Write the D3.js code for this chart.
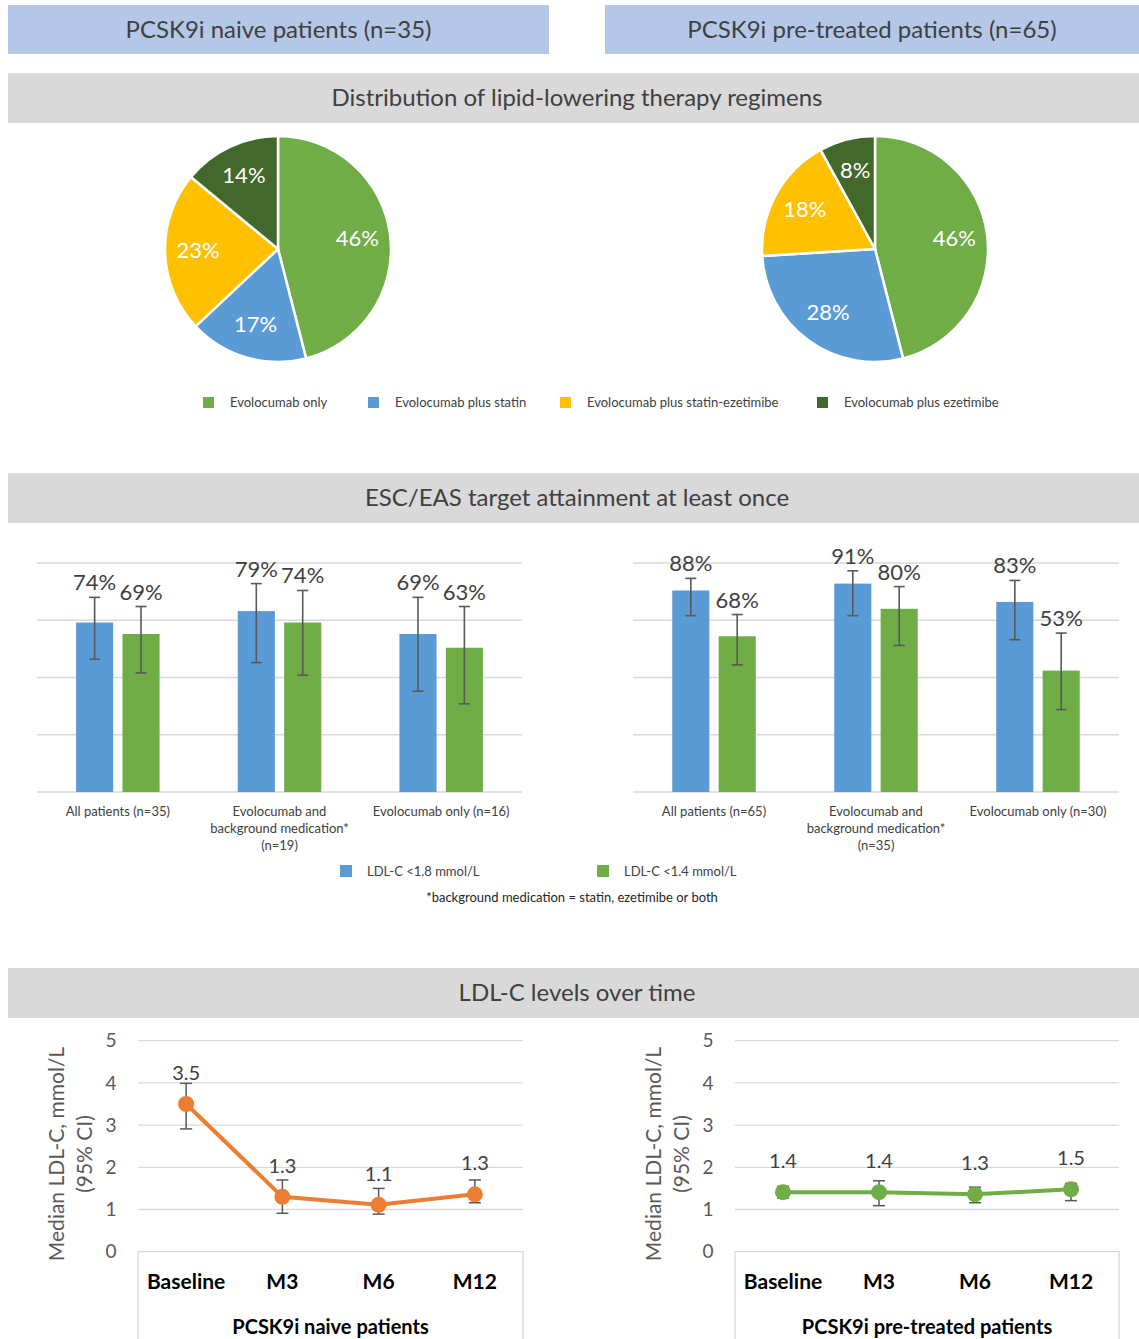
<!DOCTYPE html>
<html><head><meta charset="utf-8">
<script src="https://cdn.jsdelivr.net/npm/d3@7"></script>
<style>body{margin:0;background:#fff;} svg text{font-family:Lato,"Open Sans",sans-serif;}</style>
</head><body><svg id="c" width="1139" height="1339"></svg>
<script>
// ---------- DATA ----------
const groupTitles = ["PCSK9i naive patients (n=35)", "PCSK9i pre-treated patients (n=65)"];
const sectionTitles = ["Distribution of lipid-lowering therapy regimens", "ESC/EAS target attainment at least once", "LDL-C levels over time"];

const pieCategories = ["Evolocumab only", "Evolocumab plus statin", "Evolocumab plus statin-ezetimibe", "Evolocumab plus ezetimibe"];
const pieNaive = [46, 17, 23, 14];
const piePretreated = [46, 28, 18, 8];

const barGroupsNaive = [["All patients (n=35)"], ["Evolocumab and", "background medication*", "(n=19)"], ["Evolocumab only (n=16)"]];
const barGroupsPre = [["All patients (n=65)"], ["Evolocumab and", "background medication*", "(n=35)"], ["Evolocumab only (n=30)"]];
const barSeries = ["LDL-C <1.8 mmol/L", "LDL-C <1.4 mmol/L"];
const barGridTicks = [0, 25, 50, 75, 100];
const naive18 = [74, 79, 69], naive18Lo = [58, 56.5, 44], naive18Hi = [85, 91, 85];
const naive14 = [69, 74, 63], naive14Lo = [52, 51, 38.5], naive14Hi = [81, 88, 81];
const pre18 = [88, 91, 83], pre18Lo = [77, 77, 66.5], pre18Hi = [93.3, 96.6, 92.4];
const pre14 = [68, 80, 53], pre14Lo = [55.5, 64, 36], pre14Hi = [77.5, 89.7, 69.4];
const barFootnote = "*background medication = statin, ezetimibe or both";

const timepoints = ["Baseline", "M3", "M6", "M12"];
const ldlNaive = [3.5, 1.3, 1.11, 1.36], ldlNaiveLo = [2.91, 0.91, 0.89, 1.16], ldlNaiveHi = [3.99, 1.7, 1.5, 1.7];
const ldlNaiveLabels = ["3.5", "1.3", "1.1", "1.3"];
const ldlPre = [1.41, 1.41, 1.36, 1.48], ldlPreLo = [1.27, 1.09, 1.16, 1.21], ldlPreHi = [1.55, 1.68, 1.53, 1.62];
const ldlPreLabels = ["1.4", "1.4", "1.3", "1.5"];
const yTicksLDL = [0, 1, 2, 3, 4, 5];
const lineTitles = ["PCSK9i naive patients", "PCSK9i pre-treated patients"];
const yAxisTitle = ["Median LDL-C, mmol/L", "(95% CI)"];

// ---------- STYLE ----------
const C = {green:"#70AD47", blue:"#5B9BD5", yellow:"#FFC000", dkgreen:"#43682B", orange:"#ED7D31",
  hdrBlue:"#B4C7E7", hdrGray:"#D9D9D9", text:"#404040", axis:"#595959", grid:"#D9D9D9"};
const pieColors = [C.green, C.blue, C.yellow, C.dkgreen];

const svg = d3.select("#c");

// ---------- HEADERS ----------
const topBoxes = [[8, 549], [605, 1139]];
topBoxes.forEach((b, i) => {
  svg.append("rect").attr("x", b[0]).attr("y", 5).attr("width", b[1]-b[0]).attr("height", 49).attr("fill", C.hdrBlue);
  svg.append("text").attr("x", (b[0]+b[1])/2).attr("y", 30).attr("dy", "0.35em").attr("text-anchor", "middle")
    .attr("font-size", 24).attr("fill", C.text).text(groupTitles[i]);
});
const sectionY = [73, 473, 968];
sectionY.forEach((yy, i) => {
  svg.append("rect").attr("x", 8).attr("y", yy).attr("width", 1131).attr("height", 50).attr("fill", C.hdrGray);
  svg.append("text").attr("x", 577).attr("y", yy + 25).attr("dy", "0.35em").attr("text-anchor", "middle")
    .attr("font-size", 24).attr("fill", C.text).text(sectionTitles[i]);
});

// ---------- PIES ----------
function drawPie(cx, cy, values) {
  const g = svg.append("g").attr("transform", `translate(${cx},${cy})`);
  const arcs = d3.pie().sort(null).value(d => d)(values);
  const arc = d3.arc().innerRadius(0).outerRadius(113);
  const lab = d3.arc().innerRadius(80).outerRadius(80);
  g.selectAll("path").data(arcs).join("path").attr("d", arc)
    .attr("fill", (d, i) => pieColors[i]).attr("stroke", "#fff").attr("stroke-width", 2.5);
  g.selectAll("text").data(arcs).join("text")
    .attr("transform", d => `translate(${lab.centroid(d)})`).attr("dy", "0.3em")
    .attr("text-anchor", "middle").attr("font-size", 22).attr("fill", "#fff")
    .text(d => d.data + "%");
}
drawPie(278, 249, pieNaive);
drawPie(875, 249, piePretreated);

const pieLegX = [203, 368, 560, 817];
pieCategories.forEach((c, i) => {
  svg.append("rect").attr("x", pieLegX[i]).attr("y", 397).attr("width", 11).attr("height", 11).attr("fill", pieColors[i]);
  svg.append("text").attr("x", pieLegX[i] + 27).attr("y", 402.5).attr("dy", "0.35em").attr("font-size", 13)
    .attr("fill", C.text).text(c);
});

// ---------- BARS ----------
function drawBars(x0, x1, groups, s1, s1lo, s1hi, s2, s2lo, s2hi) {
  const g = svg.append("g");
  const y = d3.scaleLinear().domain([0, 100]).range([792, 563]);
  g.selectAll("line.grid").data(barGridTicks).join("line").attr("class", "grid")
    .attr("x1", x0).attr("x2", x1).attr("y1", d => y(d)).attr("y2", d => y(d))
    .attr("stroke", C.grid).attr("stroke-width", 1.3);
  const x = d3.scaleBand().domain(d3.range(groups.length)).range([x0, x1]);
  const bw = x.bandwidth();
  const xi = d3.scaleBand().domain([0, 1]).range([bw/2 - 41.75, bw/2 + 41.75]).paddingInner(0.2);
  const series = [[s1, s1lo, s1hi, C.blue], [s2, s2lo, s2hi, C.green]];
  series.forEach((s, si) => {
    const [v, lo, hi, col] = s;
    const cxOf = i => x(i) + xi(si) + xi.bandwidth()/2;
    g.selectAll(null).data(v).join("rect")
      .attr("x", (d, i) => x(i) + xi(si)).attr("width", xi.bandwidth())
      .attr("y", d => y(d)).attr("height", d => y(0) - y(d)).attr("fill", col);
    const eg = g.append("g").attr("stroke", C.axis).attr("stroke-width", 1.6);
    v.forEach((d, i) => {
      const cx = cxOf(i);
      eg.append("line").attr("x1", cx).attr("x2", cx).attr("y1", y(hi[i])).attr("y2", y(lo[i]));
      eg.append("line").attr("x1", cx-5.5).attr("x2", cx+5.5).attr("y1", y(hi[i])).attr("y2", y(hi[i]));
      eg.append("line").attr("x1", cx-5.5).attr("x2", cx+5.5).attr("y1", y(lo[i])).attr("y2", y(lo[i]));
    });
    g.selectAll(null).data(v).join("text")
      .attr("x", (d, i) => cxOf(i)).attr("y", (d, i) => y(hi[i]) - 7)
      .attr("text-anchor", "middle").attr("font-size", 22).attr("fill", C.text).text(d => d + "%");
  });
  groups.forEach((lines, i) => {
    const t = g.append("text").attr("x", x(i) + bw/2).attr("y", 811).attr("text-anchor", "middle")
      .attr("font-size", 13).attr("fill", C.text);
    lines.forEach((l, k) => t.append("tspan").attr("x", x(i) + bw/2).attr("y", 811 + k*17).attr("dy", "0.35em").text(l));
  });
}
drawBars(37, 522, barGroupsNaive, naive18, naive18Lo, naive18Hi, naive14, naive14Lo, naive14Hi);
drawBars(633, 1119, barGroupsPre, pre18, pre18Lo, pre18Hi, pre14, pre14Lo, pre14Hi);

const barLegX = [340, 597];
barSeries.forEach((s, i) => {
  svg.append("rect").attr("x", barLegX[i]).attr("y", 865).attr("width", 12).attr("height", 12).attr("fill", [C.blue, C.green][i]);
  svg.append("text").attr("x", barLegX[i] + 27).attr("y", 871).attr("dy", "0.35em").attr("font-size", 13)
    .attr("fill", C.text).text(s);
});
svg.append("text").attr("x", 572).attr("y", 897).attr("dy", "0.35em").attr("text-anchor", "middle")
  .attr("font-size", 13).attr("fill", "#262626").text(barFootnote);

// ---------- LINES ----------
function drawLine(x0, x1, vals, lo, hi, labels, col, title) {
  const g = svg.append("g");
  const y = d3.scaleLinear().domain([0, 5]).range([1251.7, 1040.7]);
  g.selectAll(null).data(yTicksLDL.filter(d => d > 0)).join("line")
    .attr("x1", x0).attr("x2", x1).attr("y1", d => y(d)).attr("y2", d => y(d))
    .attr("stroke", C.grid).attr("stroke-width", 1.3);
  g.append("path").attr("d", `M${x0},1339V${y(0)}H${x1}V1339`).attr("fill", "none")
    .attr("stroke", C.grid).attr("stroke-width", 1.3);
  g.selectAll(null).data(yTicksLDL).join("text")
    .attr("x", x0 - 27).attr("y", d => y(d)).attr("dy", "0.35em").attr("text-anchor", "middle")
    .attr("font-size", 19).attr("fill", C.axis).text(d => d);
  const yt = g.append("text").attr("transform", `translate(${x0 - 67},1154) rotate(-90)`)
    .attr("text-anchor", "middle").attr("font-size", 21).attr("fill", C.axis);
  yAxisTitle.forEach((t, k) => yt.append("tspan").attr("x", 0).attr("y", (k - 0.5) * 28).attr("dy", "0.35em").text(t));
  const x = d3.scalePoint().domain(timepoints).range([x0, x1]).padding(0.5);
  g.append("path").datum(vals).attr("fill", "none").attr("stroke", col).attr("stroke-width", 4)
    .attr("d", d3.line().x((d, i) => x(timepoints[i])).y(d => y(d)));
  const eg = g.append("g").attr("stroke", C.axis).attr("stroke-width", 1.5);
  vals.forEach((d, i) => {
    const cx = x(timepoints[i]);
    eg.append("line").attr("x1", cx).attr("x2", cx).attr("y1", y(hi[i])).attr("y2", y(lo[i]));
    eg.append("line").attr("x1", cx-6).attr("x2", cx+6).attr("y1", y(hi[i])).attr("y2", y(hi[i]));
    eg.append("line").attr("x1", cx-6).attr("x2", cx+6).attr("y1", y(lo[i])).attr("y2", y(lo[i]));
  });
  g.selectAll(null).data(vals).join("circle")
    .attr("cx", (d, i) => x(timepoints[i])).attr("cy", d => y(d)).attr("r", 8).attr("fill", col);
  g.selectAll(null).data(vals).join("text")
    .attr("x", (d, i) => x(timepoints[i])).attr("y", d => y(d) - 24).attr("text-anchor", "middle")
    .attr("font-size", 20).attr("fill", C.text).text((d, i) => labels[i]);
  g.selectAll(null).data(timepoints).join("text")
    .attr("x", d => x(d)).attr("y", 1281.7).attr("dy", "0.35em").attr("text-anchor", "middle")
    .attr("font-size", 21).attr("font-weight", "bold").attr("fill", "#000").text(d => d);
  g.append("text").attr("x", (x0 + x1)/2).attr("y", 1326.5).attr("dy", "0.35em").attr("text-anchor", "middle")
    .attr("font-size", 20).attr("font-weight", "bold").attr("fill", "#000").text(title);
}
drawLine(138, 523, ldlNaive, ldlNaiveLo, ldlNaiveHi, ldlNaiveLabels, C.orange, lineTitles[0]);
drawLine(735, 1119, ldlPre, ldlPreLo, ldlPreHi, ldlPreLabels, C.green, lineTitles[1]);
</script></body></html>
